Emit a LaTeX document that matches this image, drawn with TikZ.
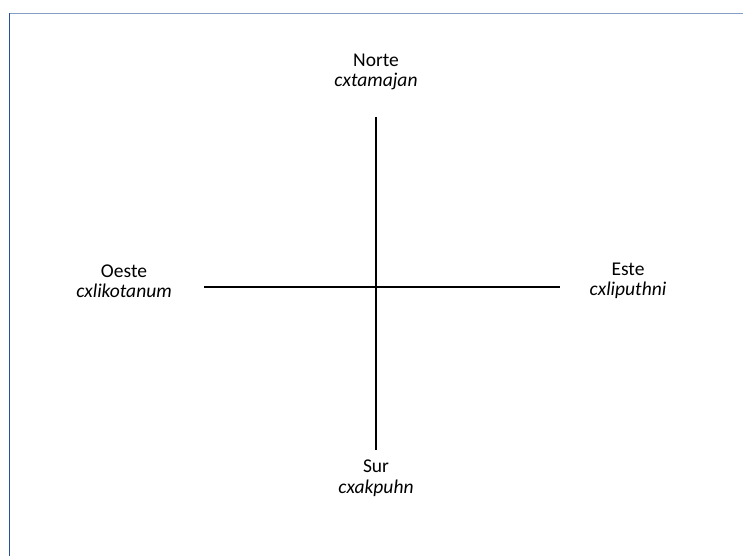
\documentclass[tikz,border=0pt]{standalone}
\usepackage{fontspec}
\setmainfont{Carlito}
\begin{document}
\begin{tikzpicture}[x=1pt,y=-1pt, line join=round,
    rumbo/.style={align=center,inner sep=0pt,font=\fontsize{19.5}{20.5}\selectfont},
    eje/.style={line width=1.8pt,black}]
        \useasboundingbox (0,0) rectangle (743,556);
        \draw[line width=1.5pt,color={rgb,255:red,132;green,158;blue,200}] (9,13.5)--(743,13.5);
        \draw[line width=1.5pt,color={rgb,255:red,40;green,80;blue,160}] (9.5,13)--(9.5,556);
        \coordinate (n) at (376,117);
        \coordinate (s) at (376,450);
        \coordinate (o) at (204,287);
        \coordinate (e) at (560,287);
        \draw[eje] (n)--(s);
        \draw[eje] (o)--(e);
        \node[rumbo] (norte) at (376,72) {Norte\\\textit{cxtamajan}};
        \node[rumbo] (oeste) at (124,281) {Oeste\\\textit{cxlikotanum}};
        \node[rumbo] (este) at (628,281) {Este\\\textit{cxliputhni}};
        \node[rumbo] (sur) at (376,478) {Sur\\\textit{cxakpuhn}};
        
    \end{tikzpicture}
\end{document}
